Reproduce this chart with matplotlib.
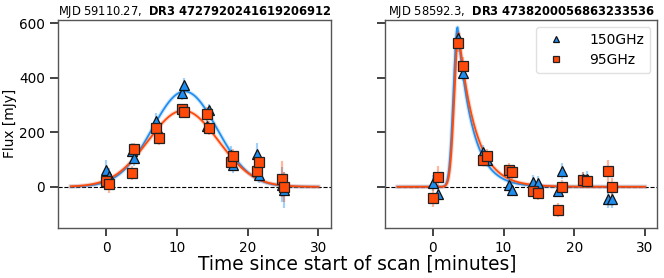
import numpy as np
import matplotlib
matplotlib.use("Agg")
import matplotlib.pyplot as plt

plt.rcParams["mathtext.fontset"] = "dejavusans"

# ---- data ----
titles = [
    r"MJD 59110.27,  $\mathbf{DR3\ 4727920241619206912}$",
    r"MJD 58592.3,  $\mathbf{DR3\ 4738200056863233536}$",
]

# left panel: slow gaussian flare
t_left = [0.0, 0.35, 3.6, 3.9, 7.1, 7.45, 10.7, 11.0, 14.2, 14.5, 17.7, 18.0, 21.3, 21.6, 24.9, 25.2]
f150_left = [62, 38, 130, 106, 242, 200, 344, 374, 222, 280, 118, 80, 121, 45, 8, -12]
e150_left = [35, 30, 30, 30, 30, 30, 25, 25, 25, 25, 30, 30, 40, 30, 65, 65]
f95_left = [20, 12, 51, 137, 216, 179, 285, 273, 267, 216, 90, 112, 57, 91, 29, -1]
e95_left = [30, 35, 25, 25, 25, 25, 20, 20, 25, 25, 25, 25, 25, 25, 65, 55]

# right panel: fast rise, exponential decay
t_right = [0.0, 0.7, 3.6, 4.2, 7.1, 7.7, 10.7, 11.2, 14.2, 14.8, 17.7, 18.3, 21.2, 21.8, 24.8, 25.4]
f150_right = [15, -28, 545, 417, 128, 100, 6, -10, 17, 15, -14, 57, 30, 28, -43, -44]
e150_right = [30, 35, 30, 30, 25, 25, 25, 25, 25, 25, 25, 30, 25, 30, 35, 35]
f95_right = [-40, 37, 526, 445, 100, 114, 63, 55, -14, -24, -85, 0, 24, 20, 57, -1]
e95_right = [35, 40, 30, 30, 25, 25, 25, 25, 25, 25, 25, 25, 30, 25, 40, 35]

# model curve parameters (fits)
gauss_150 = dict(amp=350, t0=11.1, sigma=4.6)
gauss_95 = dict(amp=280, t0=10.9, sigma=4.95)
flare_150 = dict(amp=585, t0=3.5, rise=0.58, tau=2.15)
flare_95 = dict(amp=565, t0=3.65, rise=0.6, tau=2.4)

c150 = "#1f8ef1"
c95 = "#ff4a0a"


def gauss(t, amp, t0, sigma):
    return amp * np.exp(-0.5 * ((t - t0) / sigma) ** 2)


def flare(t, amp, t0, rise, tau):
    out = np.where(t < t0,
                   np.exp(-0.5 * ((t - t0) / rise) ** 2),
                   np.exp(-(t - t0) / tau))
    return amp * out


tt = np.linspace(-5, 30, 800)

fig, axes = plt.subplots(1, 2, figsize=(6.64, 2.78), dpi=100, sharey=True)
fig.subplots_adjust(left=0.088, right=0.99, bottom=0.181, top=0.928, wspace=0.2)

panels = [
    (t_left, f150_left, e150_left, f95_left, e95_left,
     gauss(tt, **gauss_150), gauss(tt, **gauss_95)),
    (t_right, f150_right, e150_right, f95_right, e95_right,
     flare(tt, **flare_150), flare(tt, **flare_95)),
]

for ax, title, (t, f1, e1, f2, e2, m1, m2) in zip(axes, titles, panels):
    ax.axhline(0, color="k", ls="--", lw=0.8, zorder=1)

    ax.plot(tt, m1, color=c150, lw=3, alpha=0.2, zorder=2)
    ax.plot(tt, m1, color=c150, lw=1.3, zorder=2)
    ax.plot(tt, m2, color=c95, lw=3, alpha=0.2, zorder=3)
    ax.plot(tt, m2, color=c95, lw=1.3, zorder=3)

    ax.errorbar(t, f1, yerr=e1, fmt="none", ecolor=c150, elinewidth=1.6,
                alpha=0.4, zorder=4)
    ax.errorbar(t, f2, yerr=e2, fmt="none", ecolor=c95, elinewidth=1.6,
                alpha=0.4, zorder=4)
    ax.plot(t, f1, ls="none", marker="^", ms=7, mfc=c150, mec="#111111",
            mew=0.9, zorder=5, label="150GHz")
    ax.plot(t, f2, ls="none", marker="s", ms=7, mfc=c95, mec="#222222",
            mew=0.9, zorder=6, label="95GHz")

    ax.set_title(title, fontsize=8.3, pad=3)
    ax.set_xticks([0, 10, 20, 30])
    ax.tick_params(labelsize=9.8, length=6, width=1.2, color="#222222")
    for sp in ax.spines.values():
        sp.set_color("#555555")
        sp.set_linewidth(1.0)

axes[0].set_ylim(-150, 612)
axes[0].set_yticks([0, 200, 400, 600])
axes[0].set_ylabel("Flux [mJy]", fontsize=9.8, labelpad=2)
axes[1].tick_params(labelleft=False)

axes[1].legend(loc="upper right", fontsize=10, markerscale=0.65,
               borderpad=0.45, handletextpad=1.4, labelspacing=0.4,
               framealpha=0.9, edgecolor="#dddddd")

fig.text(0.538, 0.015, "Time since start of scan [minutes]", ha="center",
         va="bottom", fontsize=13.4)

fig.savefig("out.png", dpi=100)
